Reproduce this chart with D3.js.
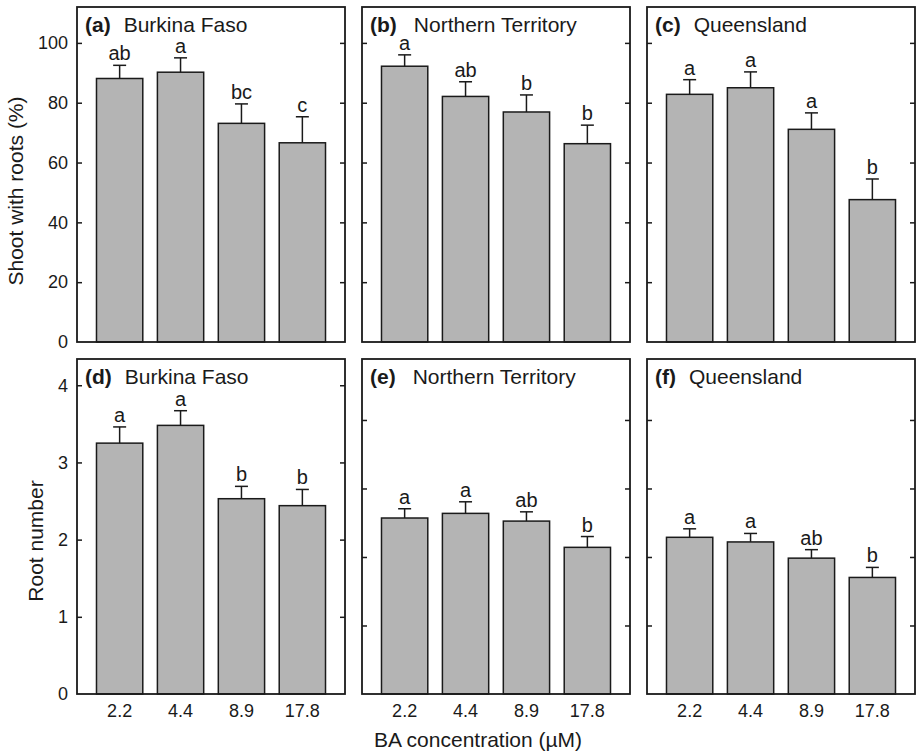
<!DOCTYPE html>
<html>
<head>
<meta charset="utf-8">
<script src="https://cdn.jsdelivr.net/npm/d3@7"></script>
<style>
body { margin: 0; background: #fff; }
text { font-family: "Liberation Sans", Arial, sans-serif; fill: #1a1a1a; }
.tick text { font-size: 18px; }
.tick line { stroke: #1a1a1a; stroke-width: 1.5; }
</style>
</head>
<body>
<script>
// data
var concentrations = ['2.2', '4.4', '8.9', '17.8'];
var panelLabels = ['(a)', '(b)', '(c)', '(d)', '(e)', '(f)'];
var sites = ['Burkina Faso', 'Northern Territory', 'Queensland'];

var shootMean = [[88.1, 90.2, 73.1, 66.6], [92.2, 82.1, 76.9, 66.3], [82.8, 85.0, 71.1, 47.6]];
var shootErr = [[4.4, 4.8, 6.5, 8.7], [3.8, 4.9, 5.7, 6.2], [4.9, 5.3, 5.5, 6.9]];
var shootLetters = [['ab', 'a', 'bc', 'c'], ['a', 'ab', 'b', 'b'], ['a', 'a', 'a', 'b']];

var rootMean = [[3.25, 3.48, 2.53, 2.44], [2.28, 2.34, 2.24, 1.90], [2.03, 1.97, 1.76, 1.51]];
var rootErr = [[0.21, 0.19, 0.16, 0.21], [0.12, 0.15, 0.12, 0.14], [0.11, 0.11, 0.11, 0.13]];
var rootLetters = [['a', 'a', 'b', 'b'], ['a', 'a', 'ab', 'b'], ['a', 'a', 'ab', 'b']];

var shootTicks = [0, 20, 40, 60, 80, 100];
var rootTicks = [0, 1, 2, 3, 4];

var shootDomain = [0, 112];
var rootDomain = [0, 4.34];
// (e) and (f) have their unlabelled tick marks on a slightly different scale in the original
var rootTickDomain = [0, 4.89];

var W = 917, H = 753;
var colLeft = [77, 362, 647];
var panelW = 268, panelH = 335;
var rowTop = [7, 359];
var barFill = '#b4b4b4';
var ink = '#1a1a1a';

var svg = d3.select('body').append('svg')
	.attr('width', W)
	.attr('height', H);

var yShoot = d3.scaleLinear().domain(shootDomain).range([rowTop[0] + panelH, rowTop[0]]);
var yRoot = d3.scaleLinear().domain(rootDomain).range([rowTop[1] + panelH, rowTop[1]]);
var yRootTicks = d3.scaleLinear().domain(rootTickDomain).range([rowTop[1] + panelH, rowTop[1]]);

drawPanel = function(row, col, means, errs, letters, y, tickY, ticks){
	var left = colLeft[col], top = rowTop[row];
	var x = d3.scaleBand()
		.domain(concentrations)
		.range([left, left + panelW])
		.paddingInner(0.24)
		.paddingOuter(0.32);
	var g = svg.append('g').attr('class', 'panel');
	var rows = concentrations.map(function(c, i){
		return {c: c, v: means[i], e: errs[i], l: letters[i]};
	});

	// error bars first so the bar outline sits on top
	var eb = g.append('g').selectAll('g')
		.data(rows)
		.enter()
		.append('g');
	eb.append('line')
		.attr('x1', function(d){ return x(d.c) + x.bandwidth() / 2; })
		.attr('x2', function(d){ return x(d.c) + x.bandwidth() / 2; })
		.attr('y1', function(d){ return y(d.v); })
		.attr('y2', function(d){ return y(d.v + d.e); })
		.attr('stroke', ink)
		.attr('stroke-width', 1.5);
	eb.append('line')
		.attr('x1', function(d){ return x(d.c) + x.bandwidth() / 2 - 6.5; })
		.attr('x2', function(d){ return x(d.c) + x.bandwidth() / 2 + 6.5; })
		.attr('y1', function(d){ return y(d.v + d.e); })
		.attr('y2', function(d){ return y(d.v + d.e); })
		.attr('stroke', ink)
		.attr('stroke-width', 1.5);
	eb.append('text')
		.attr('x', function(d){ return x(d.c) + x.bandwidth() / 2; })
		.attr('y', function(d){ return y(d.v + d.e) - 5; })
		.attr('text-anchor', 'middle')
		.style('font-size', '20px')
		.text(function(d){ return d.l; });

	g.append('g').selectAll('rect')
		.data(rows)
		.enter()
		.append('rect')
		.attr('x', function(d){ return x(d.c); })
		.attr('y', function(d){ return y(d.v); })
		.attr('width', x.bandwidth())
		.attr('height', function(d){ return y(0) - y(d.v); })
		.attr('fill', barFill)
		.attr('stroke', ink)
		.attr('stroke-width', 1.5);

	// inward ticks on both sides, numbers only on the first column
	var la = g.append('g')
		.attr('transform', 'translate(' + left + ',0)')
		.call(d3.axisLeft(tickY).tickValues(ticks).tickSize(-5).tickPadding(9)
			.tickFormat(col == 0 ? d3.format('d') : ''));
	la.select('.domain').remove();
	var ra = g.append('g')
		.attr('transform', 'translate(' + (left + panelW) + ',0)')
		.call(d3.axisRight(tickY).tickValues(ticks).tickSize(-5).tickFormat(''));
	ra.select('.domain').remove();

	if (row == 1){
		var xa = g.append('g')
			.attr('transform', 'translate(0,' + (top + panelH) + ')')
			.call(d3.axisBottom(x).tickSize(0).tickPadding(10));
		xa.select('.domain').remove();
	}

	g.append('rect')
		.attr('x', left)
		.attr('y', top)
		.attr('width', panelW)
		.attr('height', panelH)
		.attr('fill', 'none')
		.attr('stroke', ink)
		.attr('stroke-width', 1.8);

	var t = g.append('text')
		.attr('x', left + 8)
		.attr('y', top + 25)
		.style('font-size', '21px');
	t.append('tspan')
		.style('font-weight', 'bold')
		.text(panelLabels[row * 3 + col]);
	t.append('tspan')
		.attr('dx', col == 1 ? 17 : 13)
		.text(sites[col]);
};

for (var c = 0; c < 3; c++){
	drawPanel(0, c, shootMean[c], shootErr[c], shootLetters[c], yShoot, yShoot, shootTicks.slice(1));
	drawPanel(1, c, rootMean[c], rootErr[c], rootLetters[c], yRoot, c == 0 ? yRoot : yRootTicks, rootTicks.slice(1));
}
// zero labels sit at the axis line of the first column
svg.selectAll('.zeroLab')
	.data([[yShoot, 0], [yRoot, 0]])
	.enter()
	.append('text')
	.attr('x', colLeft[0] - 9)
	.attr('y', function(d){ return d[0](d[1]); })
	.attr('dy', '0.32em')
	.attr('text-anchor', 'end')
	.style('font-size', '18px')
	.text(function(d){ return d[1]; });

svg.append('text')
	.attr('transform', 'translate(23,191) rotate(-90)')
	.attr('text-anchor', 'middle')
	.style('font-size', '21px')
	.text('Shoot with roots (%)');
svg.append('text')
	.attr('transform', 'translate(43,541) rotate(-90)')
	.attr('text-anchor', 'middle')
	.style('font-size', '21px')
	.text('Root number');
svg.append('text')
	.attr('x', 478)
	.attr('y', 747)
	.attr('text-anchor', 'middle')
	.style('font-size', '21px')
	.text('BA concentration (\u00b5M)');
</script>
</body>
</html>
